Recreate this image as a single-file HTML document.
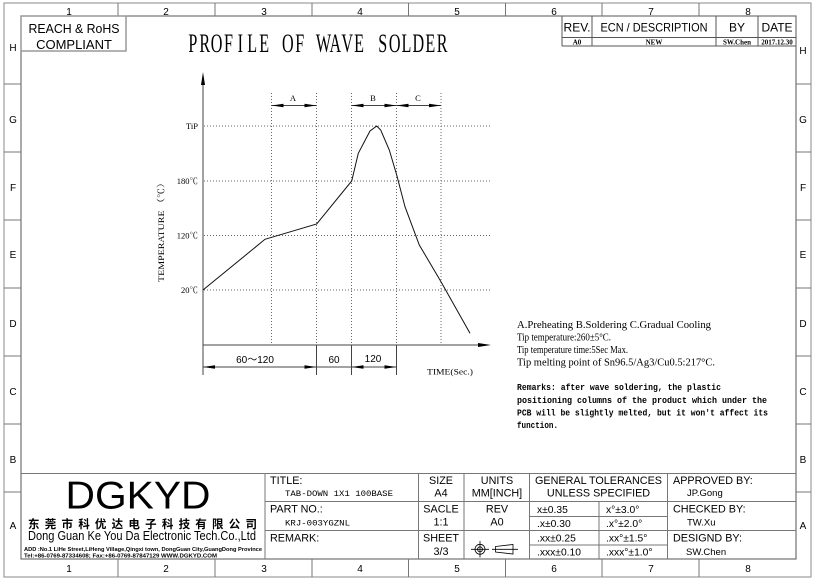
<!DOCTYPE html>
<html><head><meta charset="utf-8"><style>
html,body{margin:0;padding:0;background:#fff;}
svg{display:block;}
.s{font-family:"Liberation Sans",Arial,sans-serif;}
.m{font-family:"Liberation Mono","Noto Sans CJK SC",monospace;}
.r{font-family:"Liberation Serif","Noto Serif CJK SC",serif;}
</style></head><body>
<svg width="815" height="579" viewBox="0 0 815 579" xmlns="http://www.w3.org/2000/svg">
<rect x="0" y="0" width="815" height="579" fill="#fff"/>
<!-- borders -->
<rect x="4" y="3" width="807" height="574" fill="none" stroke="#8a8a8a" stroke-width="1"/>
<rect x="21" y="16" width="775" height="543" fill="none" stroke="#555" stroke-width="1"/>
<g stroke="#777" stroke-width="1">
<line x1="118" y1="3" x2="118" y2="16"/><line x1="215" y1="3" x2="215" y2="16"/><line x1="312" y1="3" x2="312" y2="16"/><line x1="408.5" y1="3" x2="408.5" y2="16"/><line x1="505.5" y1="3" x2="505.5" y2="16"/><line x1="602" y1="3" x2="602" y2="16"/><line x1="699" y1="3" x2="699" y2="16"/>
<line x1="118" y1="559" x2="118" y2="577"/><line x1="215" y1="559" x2="215" y2="577"/><line x1="312" y1="559" x2="312" y2="577"/><line x1="408.5" y1="559" x2="408.5" y2="577"/><line x1="505.5" y1="559" x2="505.5" y2="577"/><line x1="602" y1="559" x2="602" y2="577"/><line x1="699" y1="559" x2="699" y2="577"/>
<line x1="4" y1="84" x2="21" y2="84"/><line x1="4" y1="152" x2="21" y2="152"/><line x1="4" y1="220" x2="21" y2="220"/><line x1="4" y1="288" x2="21" y2="288"/><line x1="4" y1="356" x2="21" y2="356"/><line x1="4" y1="424" x2="21" y2="424"/><line x1="4" y1="492" x2="21" y2="492"/>
<line x1="796" y1="84" x2="811" y2="84"/><line x1="796" y1="152" x2="811" y2="152"/><line x1="796" y1="220" x2="811" y2="220"/><line x1="796" y1="288" x2="811" y2="288"/><line x1="796" y1="356" x2="811" y2="356"/><line x1="796" y1="424" x2="811" y2="424"/><line x1="796" y1="492" x2="811" y2="492"/>
</g>
<g class="s" font-size="10" fill="#000" text-anchor="middle">
<text x="69" y="15">1</text><text x="166" y="15">2</text><text x="264" y="15">3</text><text x="360" y="15">4</text><text x="457" y="15">5</text><text x="554" y="15">6</text><text x="651" y="15">7</text><text x="748" y="15">8</text>
<text x="69" y="572">1</text><text x="166" y="572">2</text><text x="264" y="572">3</text><text x="360" y="572">4</text><text x="457" y="572">5</text><text x="554" y="572">6</text><text x="651" y="572">7</text><text x="748" y="572">8</text>
<text x="13" y="51">H</text><text x="13" y="123">G</text><text x="13" y="191">F</text><text x="13" y="258">E</text><text x="13" y="327">D</text><text x="13" y="395">C</text><text x="13" y="463">B</text><text x="13" y="529">A</text>
<text x="803" y="54">H</text><text x="803" y="123">G</text><text x="803" y="191">F</text><text x="803" y="258">E</text><text x="803" y="327">D</text><text x="803" y="395">C</text><text x="803" y="463">B</text><text x="803" y="529">A</text>
</g>
<!-- REACH box -->
<rect x="21" y="16" width="105" height="35" fill="none" stroke="#999" stroke-width="1.5"/>
<text class="s" x="74" y="33" font-size="13" text-anchor="middle" textLength="91" lengthAdjust="spacingAndGlyphs">REACH &amp; RoHS</text>
<text class="s" x="74" y="49" font-size="13" text-anchor="middle">COMPLIANT</text>
<!-- title (monospace-like serif) -->
<text class="r" transform="translate(0,52) scale(0.62,1)" y="0" font-size="26" text-anchor="middle" x="311.1 330.3 349.4 368.5 387.7 406.8 426.0 445.2 464.2 483.4 502.6 521.8 540.8 560.0 579.2 598.2 617.4 636.6 655.6 674.8 694.0 713.1">PROFILE OF WAVE SOLDER</text>
<!-- revision table -->
<g stroke="#555" stroke-width="1" fill="none">
<line x1="562" y1="16" x2="562" y2="46"/><line x1="592" y1="16" x2="592" y2="46"/><line x1="716" y1="16" x2="716" y2="46"/><line x1="758" y1="16" x2="758" y2="46"/>
<line x1="562" y1="37.5" x2="796" y2="37.5"/><line x1="562" y1="46" x2="796" y2="46"/>
</g>
<g class="s" font-size="12" text-anchor="middle">
<text x="577" y="31.5">REV.</text><text x="654" y="31.5" textLength="107" lengthAdjust="spacingAndGlyphs">ECN / DESCRIPTION</text><text x="737" y="31.5">BY</text><text x="777" y="31.5">DATE</text>
</g>
<g class="r" font-size="7" font-weight="bold" text-anchor="middle">
<text x="577" y="44.5">A0</text><text x="654" y="44.5">NEW</text><text x="737" y="44.5">SW.Chen</text><text x="777" y="44.5">2017.12.30</text>
</g>
<!-- chart grid -->
<g stroke="#666" stroke-width="1" stroke-dasharray="1 2" fill="none">
<line x1="204" y1="126" x2="490" y2="126"/><line x1="204" y1="181" x2="490" y2="181"/><line x1="204" y1="235.5" x2="490" y2="235.5"/><line x1="204" y1="290" x2="490" y2="290"/>
<line x1="271.5" y1="93" x2="271.5" y2="345"/><line x1="316.5" y1="93" x2="316.5" y2="345"/><line x1="351.5" y1="93" x2="351.5" y2="345"/><line x1="396.5" y1="93" x2="396.5" y2="345"/><line x1="441" y1="93" x2="441" y2="345"/>
</g>
<!-- axes -->
<g stroke="#444" stroke-width="1" fill="none">
<line x1="203" y1="80" x2="203" y2="375"/>
<line x1="203" y1="345" x2="482" y2="345"/>
<line x1="316.5" y1="345" x2="316.5" y2="375"/><line x1="351.5" y1="345" x2="351.5" y2="375"/><line x1="396.5" y1="345" x2="396.5" y2="375"/>
<line x1="203" y1="367" x2="396.5" y2="367"/>
<line x1="271.5" y1="105.5" x2="316.5" y2="105.5"/>
<line x1="351.5" y1="105.5" x2="441" y2="105.5"/>
</g>
<g fill="#000">
<polygon points="203,72 201,85 205,85"/>
<polygon points="491,345 478,343 478,347"/>
<polygon points="203,367 215,365.3 215,368.7"/><polygon points="316.5,367 304.5,365.3 304.5,368.7"/>
<polygon points="351.5,367 363.5,365.3 363.5,368.7"/><polygon points="396.5,367 384.5,365.3 384.5,368.7"/>
<polygon points="271.5,105.5 283.5,103.8 283.5,107.2"/><polygon points="316.5,105.5 304.5,103.8 304.5,107.2"/>
<polygon points="351.5,105.5 363.5,103.8 363.5,107.2"/><polygon points="396.5,105.5 384.5,103.8 384.5,107.2"/>
<polygon points="396.5,105.5 408.5,103.8 408.5,107.2"/><polygon points="441,105.5 429,103.8 429,107.2"/>
</g>
<!-- curve -->
<polyline fill="none" stroke="#111" stroke-width="1" points="203,290 265,239.3 270,237.8 316.7,224 351.7,181 358.3,153.3 370,131 376.7,126 380.7,130 389.3,150 396.7,175 405,206.7 419.3,245 441,281.7 470,333.3"/>
<!-- chart labels -->
<g class="r" font-size="8.5">
<text x="293" y="101" text-anchor="middle">A</text><text x="373" y="101" text-anchor="middle">B</text><text x="418" y="101" text-anchor="middle">C</text>
<text x="198" y="129" text-anchor="end">TiP</text>
<text x="198" y="184" text-anchor="end">180℃</text>
<text x="198" y="238.5" text-anchor="end">120℃</text>
<text x="198" y="293" text-anchor="end">20℃</text>
<text transform="translate(164,230) rotate(-90)" text-anchor="middle" textLength="104" lengthAdjust="spacingAndGlyphs">TEMPERATURE （℃）</text>
<text x="427" y="374.5" font-size="8" textLength="46" lengthAdjust="spacingAndGlyphs">TIME(Sec.)</text>
</g>
<g class="s" font-size="10" text-anchor="middle">
<text x="255" y="363">60～120</text><text x="334" y="363">60</text><text x="373" y="362">120</text>
</g>
<!-- notes -->
<g class="r" font-size="10.5">
<text x="517" y="328" textLength="194" lengthAdjust="spacingAndGlyphs">A.Preheating B.Soldering C.Gradual Cooling</text>
<text x="517" y="340.5" textLength="94" lengthAdjust="spacingAndGlyphs">Tip temperature:260±5°C.</text>
<text x="517" y="353" textLength="111" lengthAdjust="spacingAndGlyphs">Tip temperature time:5Sec Max.</text>
<text x="517" y="365.5" textLength="198" lengthAdjust="spacingAndGlyphs">Tip melting point of Sn96.5/Ag3/Cu0.5:217°C.</text>
</g>
<g class="m" font-size="9.5" font-weight="bold">
<text x="517" y="390" textLength="204" lengthAdjust="spacingAndGlyphs">Remarks: after wave soldering, the plastic</text>
<text x="517" y="403" textLength="250" lengthAdjust="spacingAndGlyphs">positioning columns of the product  which under the</text>
<text x="517" y="415.5" textLength="251" lengthAdjust="spacingAndGlyphs">PCB will be slightly melted, but it won't affect its</text>
<text x="517" y="428" textLength="41" lengthAdjust="spacingAndGlyphs">function.</text>
</g>
<!-- title block -->
<g stroke="#777" stroke-width="1" fill="none">
<line x1="21" y1="473.5" x2="796" y2="473.5"/>
<line x1="265" y1="473.5" x2="265" y2="559"/>
<line x1="418.5" y1="473.5" x2="418.5" y2="559"/>
<line x1="464" y1="473.5" x2="464" y2="559"/>
<line x1="529.5" y1="473.5" x2="529.5" y2="559"/>
<line x1="599" y1="501.5" x2="599" y2="559"/>
<line x1="667.5" y1="473.5" x2="667.5" y2="559"/>
<line x1="265" y1="501.5" x2="796" y2="501.5"/>
<line x1="265" y1="530.5" x2="796" y2="530.5"/>
<line x1="529.5" y1="516.5" x2="667.5" y2="516.5"/>
<line x1="529.5" y1="545" x2="667.5" y2="545"/>
</g>
<text class="s" x="138" y="508.5" font-size="38.5" text-anchor="middle" textLength="145" lengthAdjust="spacingAndGlyphs">DGKYD</text>
<text x="28" y="528" font-size="11.5" font-weight="bold" textLength="229" lengthAdjust="spacing" style='font-family:"Noto Sans CJK SC","WenQuanYi Zen Hei",sans-serif'>东 莞 市 科 优 达 电 子 科 技 有 限 公 司</text>
<text class="s" x="28" y="540" font-size="13" textLength="228" lengthAdjust="spacingAndGlyphs">Dong Guan Ke You Da Electronic Tech.Co.,Ltd</text>
<text class="s" x="24" y="551" font-size="5.5" font-weight="bold" textLength="238" lengthAdjust="spacingAndGlyphs">ADD :No.1 LiHe Street,LiHeng Village,Qingxi town, DongGuan City,GuangDong Province</text>
<text class="s" x="24" y="557.5" font-size="5.5" font-weight="bold" textLength="193" lengthAdjust="spacingAndGlyphs">Tel:+86-0769-87334608; Fax:+86-0769-87847129  WWW.DGKYD.COM</text>
<g class="s" font-size="10.8">
<text x="270" y="484">TITLE:</text>
<text x="270" y="512.5">PART NO.:</text>
<text x="270" y="541.5">REMARK:</text>
</g>
<g class="m" font-size="8.5">
<text x="285" y="496" textLength="108" lengthAdjust="spacingAndGlyphs">TAB-DOWN 1X1 100BASE</text>
<text x="285" y="525.5" textLength="65" lengthAdjust="spacingAndGlyphs">KRJ-003YGZNL</text>
</g>
<g class="s" font-size="10.8" text-anchor="middle">
<text x="441" y="484">SIZE</text><text x="441" y="496.5">A4</text>
<text x="441" y="512.5">SACLE</text><text x="441" y="525.5">1:1</text>
<text x="441" y="541.5">SHEET</text><text x="441" y="555">3/3</text>
<text x="497" y="484">UNITS</text><text x="497" y="496.5">MM[INCH]</text>
<text x="497" y="512.5">REV</text><text x="497" y="525.5">A0</text>
<text x="598.5" y="484" textLength="127" lengthAdjust="spacingAndGlyphs">GENERAL TOLERANCES</text>
<text x="598.5" y="496.5">UNLESS SPECIFIED</text>
</g>
<!-- symbol -->
<g stroke="#000" stroke-width="0.8" fill="none">
<circle cx="480" cy="549.3" r="5"/>
<circle cx="480" cy="549.3" r="2.5"/>
<line x1="471" y1="549.3" x2="489" y2="549.3"/>
<line x1="480" y1="541" x2="480" y2="557.5"/>
<polygon points="495.5,546.5 513,544.5 513,554 495.5,552"/>
<line x1="492" y1="549.3" x2="518" y2="549.3"/>
</g>
<g class="s" font-size="10.3">
<text x="537" y="513">x±0.35</text><text x="606" y="513">x°±3.0°</text>
<text x="537" y="527">.x±0.30</text><text x="606" y="527">.x°±2.0°</text>
<text x="537" y="541.5">.xx±0.25</text><text x="606" y="541.5">.xx°±1.5°</text>
<text x="537" y="555.5">.xxx±0.10</text><text x="606" y="555.5">.xxx°±1.0°</text>
</g>
<g class="s" font-size="10.8">
<text x="673" y="484">APPROVED BY:</text>
<text x="673" y="512.5">CHECKED BY:</text>
<text x="673" y="541.5">DESIGND BY:</text>
</g>
<g class="s" font-size="9.5">
<text x="687" y="496">JP.Gong</text>
<text x="687" y="525.5">TW.Xu</text>
<text x="686" y="555">SW.Chen</text>
</g>
</svg>
</body></html>
